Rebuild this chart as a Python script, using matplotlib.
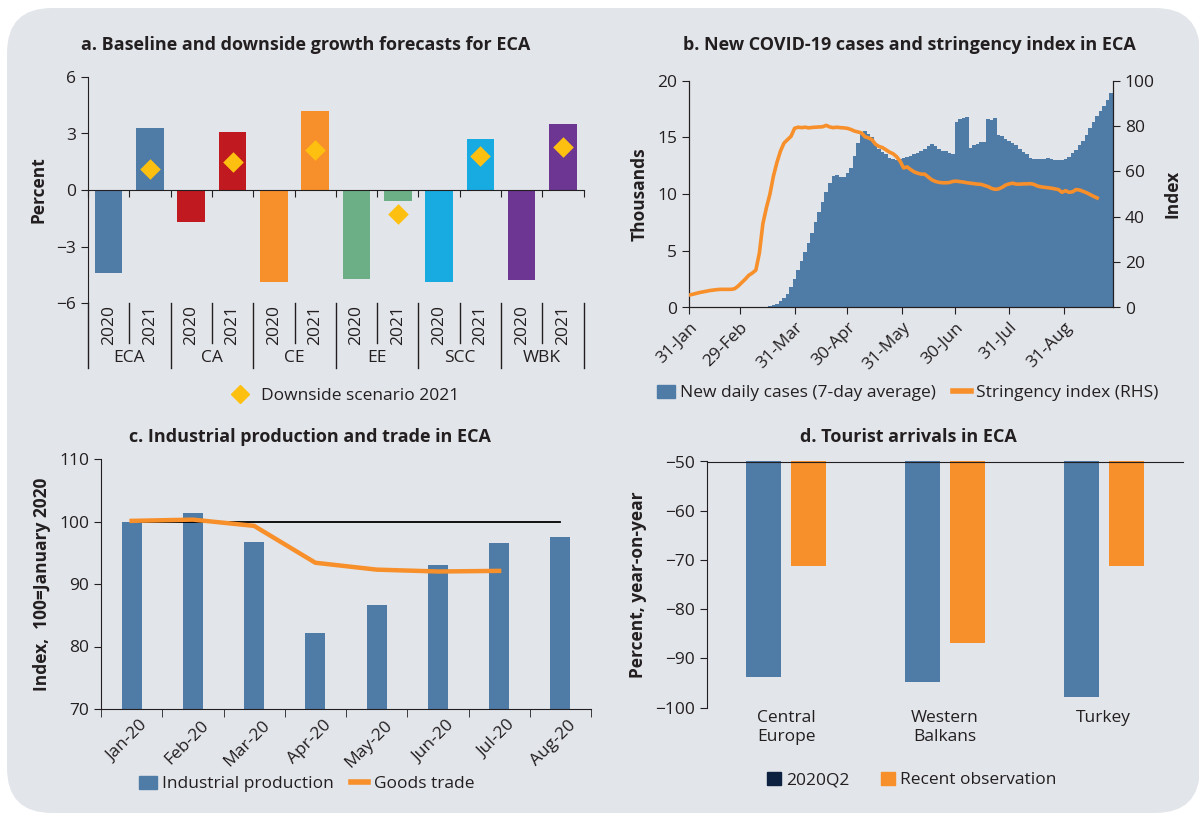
import numpy as np
import matplotlib
matplotlib.use('Agg')
import matplotlib.pyplot as plt
import matplotlib.transforms as mtransforms
from matplotlib.patches import FancyBboxPatch, Patch
from matplotlib.lines import Line2D

plt.rcParams['font.family'] = ['Open Sans', 'DejaVu Sans']
plt.rcParams['font.size'] = 12.5
for key in ['text.color', 'axes.labelcolor', 'xtick.color', 'ytick.color', 'axes.edgecolor']:
    plt.rcParams[key] = '#231f20'

BLUE = '#4f7ba7'
ORANGE = '#f78f2b'

# a. growth forecasts
regions = ['ECA', 'CA', 'CE', 'EE', 'SCC', 'WBK']
years = ['2020', '2021']
growth_2020 = [-4.4, -1.7, -4.9, -4.7, -4.9, -4.8]
growth_2021 = [3.3, 3.1, 4.2, -0.6, 2.7, 3.5]
downside_2021 = [1.1, 1.5, 2.1, -1.3, 1.8, 2.3]
region_colors = ['#4f7ba7', '#c0191f', '#f78f2b', '#6caf87', '#17abe2', '#6c3692']

# b. covid cases (thousands, every 2 days from 31-Jan) and stringency index
new_cases = [0] * 21 + [
    0.02, 0.05, 0.1, 0.2, 0.35, 0.55, 0.85, 1.2, 1.8, 2.5,
    3.3, 4.1, 4.9, 5.7, 6.6, 7.5, 8.4, 9.3, 10.2, 11.0,
    11.6, 11.7, 11.5, 11.5, 11.9, 12.3, 13.4, 14.5, 15.3, 15.6,
    15.3, 15.0, 14.5, 14.0, 13.7, 13.5, 13.2, 13.1, 13.0, 13.1,
    13.2, 13.3, 13.4, 13.5, 13.6, 13.8, 14.0, 14.2, 14.4, 14.2,
    14.0, 13.8, 13.8, 13.6, 13.5, 16.4, 16.6, 16.7, 16.8, 14.1,
    14.3, 14.4, 14.6, 14.6, 16.6, 16.5, 16.7, 15.2, 15.1, 14.9,
    14.7, 14.5, 14.3, 14.0, 13.7, 13.5, 13.2, 13.1, 13.1, 13.1,
    13.1, 13.2, 13.1, 13.0, 13.0, 13.0, 13.1, 13.3, 13.6, 13.9,
    14.3, 14.7, 15.2, 15.8, 16.4, 16.9, 17.3, 17.8, 18.3, 18.9]
stringency = [
    5.5, 5.8, 6.2, 6.6, 6.9, 7.2, 7.5, 7.7, 7.9, 8.0,
    8.0, 8.0, 8.0, 8.3, 9.5, 11.0, 12.5, 14.2, 15.2, 16.5,
    24.0, 37.0, 44.0, 50.0, 58.0, 64.0, 69.0, 72.5, 74.0, 75.5,
    79.0, 79.5, 79.3, 79.5, 79.2, 79.4, 79.5, 79.6, 79.7, 80.3,
    79.6, 79.3, 79.5, 79.3, 79.2, 79.0, 78.5, 77.8, 77.4, 77.0,
    75.3, 74.8, 74.0, 72.0, 71.0, 70.5, 69.5, 68.5, 67.8, 66.5,
    64.5, 61.5, 62.0, 60.8, 59.8, 59.2, 58.8, 58.8, 57.5, 56.3,
    55.6, 55.2, 55.0, 55.0, 55.1, 55.6, 55.7, 55.5, 55.3, 55.0,
    54.8, 54.6, 54.4, 54.3, 53.8, 53.3, 52.5, 52.1, 52.3, 53.0,
    54.0, 54.5, 54.8, 54.4, 54.4, 54.5, 54.5, 54.6, 54.3, 53.6,
    53.2, 53.0, 52.8, 52.6, 52.3, 52.0, 50.8, 51.5, 50.8, 51.0,
    52.0, 51.8, 51.2, 50.6, 49.8, 49.0, 48.3]
date_ticks = ['2020-01-31', '2020-02-29', '2020-03-31', '2020-04-30',
              '2020-05-31', '2020-06-30', '2020-07-31', '2020-08-31']
date_labels = ['31-Jan', '29-Feb', '31-Mar', '30-Apr', '31-May', '30-Jun', '31-Jul', '31-Aug']

# c. industrial production and trade
months = ['Jan-20', 'Feb-20', 'Mar-20', 'Apr-20', 'May-20', 'Jun-20', 'Jul-20', 'Aug-20']
industrial_production = [100.0, 101.3, 96.8, 82.2, 86.7, 93.0, 96.6, 97.6]
goods_trade = [100.1, 100.3, 99.3, 93.4, 92.3, 92.0, 92.1]

# d. tourist arrivals
tourist_groups = ['Central\nEurope', 'Western\nBalkans', 'Turkey']
arrivals_q2 = [-93.9, -94.8, -97.9]
arrivals_recent = [-71.3, -86.8, -71.2]

W, H = 1199, 813
fig = plt.figure(figsize=(W / 100, H / 100), dpi=100, facecolor='white')
bg = FancyBboxPatch((0.07, 0.0), 11.93, 8.05, boxstyle='round,pad=0,rounding_size=0.45',
                    transform=fig.dpi_scale_trans, facecolor='#e2e5ea', edgecolor='none', zorder=0)
fig.add_artist(bg)


def box(left, right, top, bottom):
    return [left / W, 1 - bottom / H, (right - left) / W, (bottom - top) / H]


def title(text, xc, y):
    fig.text(xc / W, 1 - y / H, text, ha='center', va='center', fontsize=13, fontweight='bold')


def shift_labels(ax, dx, dy):
    off = mtransforms.ScaledTranslation(dx / 100, dy / 100, fig.dpi_scale_trans)
    for lab in ax.get_xticklabels():
        lab.set_transform(lab.get_transform() + off)


# ---------- panel a ----------
ax = fig.add_axes(box(88, 583.6, 77, 303))
ax.set_facecolor('none')
pos = np.arange(len(regions) * 2)
vals = [v for pair in zip(growth_2020, growth_2021) for v in pair]
cols = [c for c in region_colors for _ in years]
ax.bar(pos, vals, width=0.67, color=cols, zorder=2)
ax.scatter(pos[1::2], downside_2021, marker='D', s=110, color='#fdc010', zorder=3, linewidths=0)
ax.set_xlim(-0.5, len(pos) - 0.5)
ax.set_ylim(-6, 6)
ax.set_yticks([-6, -3, 0, 3, 6])
ax.spines[['top', 'right']].set_visible(False)
ax.spines['bottom'].set_position(('data', 0))
ax.set_xticks(np.arange(-0.5, len(pos), 1))
ax.set_xticklabels([])
ax.tick_params(axis='x', length=5)
ax.tick_params(axis='y', length=5)
ax.set_ylabel('Percent', fontweight='bold', labelpad=6)
tr = ax.get_xaxis_transform()
for i, r in enumerate(regions):
    for j, yr in enumerate(years):
        ax.text(2 * i + j, -0.01, yr, rotation=90, ha='center', va='top', transform=tr)
    ax.plot([2 * i + 0.5] * 2, [0, -0.177], color='#231f20', lw=1, transform=tr, clip_on=False)
    ax.text(2 * i + 0.5, -0.243, r, ha='center', va='center', transform=tr)
for k in range(len(regions) + 1):
    ax.plot([2 * k - 0.5] * 2, [0, -0.288], color='#231f20', lw=1, transform=tr, clip_on=False)
ax.legend(handles=[Line2D([], [], marker='D', ls='none', color='#fdc010', markersize=9)],
          labels=['Downside scenario 2021'], loc='center', bbox_to_anchor=(0.51, -0.41),
          frameon=False, handletextpad=0.2, borderaxespad=0)
title('a. Baseline and downside growth forecasts for ECA', 306, 45)

# ---------- panel b ----------
ax = fig.add_axes(box(689, 1113, 80.7, 307.5))
ax.set_facecolor('none')
start = np.datetime64('2020-01-31')
case_dates = start + np.arange(len(new_cases)) * 2
str_dates = start + np.arange(len(stringency)) * 2
ax.bar(case_dates, new_cases, width=2, color=BLUE, linewidth=0, zorder=2)
ax.set_ylim(0, 20)
ax.set_yticks([0, 5, 10, 15, 20])
ax.set_xlim(start, start + np.timedelta64(241, 'D'))
ax.set_xticks(np.array(date_ticks, dtype='datetime64[D]'))
ax.set_xticklabels(date_labels, rotation=45, ha='right', rotation_mode='anchor')
shift_labels(ax, 7, 2)
ax.tick_params(length=5)
ax.spines['top'].set_visible(False)
ax.set_ylabel('Thousands', fontweight='bold', labelpad=6)
ax2 = ax.twinx()
ax2.plot(str_dates, stringency, color=ORANGE, lw=2.6, zorder=3)
ax2.set_ylim(0, 100)
ax2.set_yticks([0, 20, 40, 60, 80, 100])
ax2.tick_params(length=5)
ax2.spines['top'].set_visible(False)
ax2.set_ylabel('Index', fontweight='bold', labelpad=6)
ax2.legend(handles=[Patch(color=BLUE), Line2D([], [], color=ORANGE, lw=4)],
           labels=['New daily cases (7-day average)', 'Stringency index (RHS)'],
           loc='center', bbox_to_anchor=(0.516, -0.377), ncol=2, frameon=False,
           handlelength=1.0, handleheight=0.8, handletextpad=0.3, columnspacing=1.0, borderaxespad=0)
title('b. New COVID-19 cases and stringency index in ECA', 909, 45)

# ---------- panel c ----------
ax = fig.add_axes(box(101, 591, 459, 709))
ax.set_facecolor('none')
x = np.arange(len(months))
ax.bar(x, industrial_production, width=0.33, color=BLUE, zorder=2)
ax.plot([x[0], x[-1]], [100, 100], color='black', lw=1.3, zorder=3)
ax.plot(x[:len(goods_trade)], goods_trade, color=ORANGE, lw=3.2, zorder=4)
ax.set_xlim(-0.5, len(months) - 0.5)
ax.set_ylim(70, 110)
ax.set_yticks([70, 80, 90, 100, 110])
ax.set_xticks(x)
ax.set_xticklabels(months, rotation=45, ha='right', rotation_mode='anchor')
ax.set_xticks(np.arange(-0.5, len(months), 1), minor=True)
ax.tick_params(axis='x', which='major', length=0, pad=6)
ax.tick_params(axis='x', which='minor', length=6)
ax.tick_params(axis='y', length=5)
shift_labels(ax, 8, 0)
ax.spines[['top', 'right']].set_visible(False)
ax.set_ylabel('Index,  100=January 2020', fontweight='bold', labelpad=6)
ax.legend(handles=[Patch(color=BLUE), Line2D([], [], color=ORANGE, lw=4)],
          labels=['Industrial production', 'Goods trade'],
          loc='center', bbox_to_anchor=(0.42, -0.30), ncol=2, frameon=False,
          handlelength=1.0, handleheight=0.8, handletextpad=0.3, columnspacing=1.0, borderaxespad=0)
title('c. Industrial production and trade in ECA', 310, 437)

# ---------- panel d ----------
ax = fig.add_axes(box(707, 1183, 461.5, 707.5))
ax.set_facecolor('none')
x = np.arange(len(tourist_groups))
ax.bar(x - 0.142, arrivals_q2, width=0.22, color=BLUE, zorder=2)
ax.bar(x + 0.142, arrivals_recent, width=0.22, color=ORANGE, zorder=2)
ax.set_xlim(-0.5, len(tourist_groups) - 0.5)
ax.set_ylim(-100, -50)
ax.set_yticks([-100, -90, -80, -70, -60, -50])
ax.set_xticks(x)
ax.set_xticklabels(tourist_groups)
ax.tick_params(axis='x', length=0, pad=2)
ax.tick_params(axis='y', length=5)
ax.spines[['bottom', 'right']].set_visible(False)
ax.spines['top'].set_zorder(4)
ax.set_ylabel('Percent, year-on-year', fontweight='bold', labelpad=6)
ax.legend(handles=[Patch(color='#0d2240'), Patch(color=ORANGE)],
          labels=['2020Q2', 'Recent observation'],
          loc='center', bbox_to_anchor=(0.43, -0.295), ncol=2, frameon=False,
          handlelength=0.8, handleheight=0.8, handletextpad=0.3, columnspacing=1.8, borderaxespad=0)
title('d. Tourist arrivals in ECA', 908, 437)

fig.savefig('out.png', dpi=100, facecolor='white')
